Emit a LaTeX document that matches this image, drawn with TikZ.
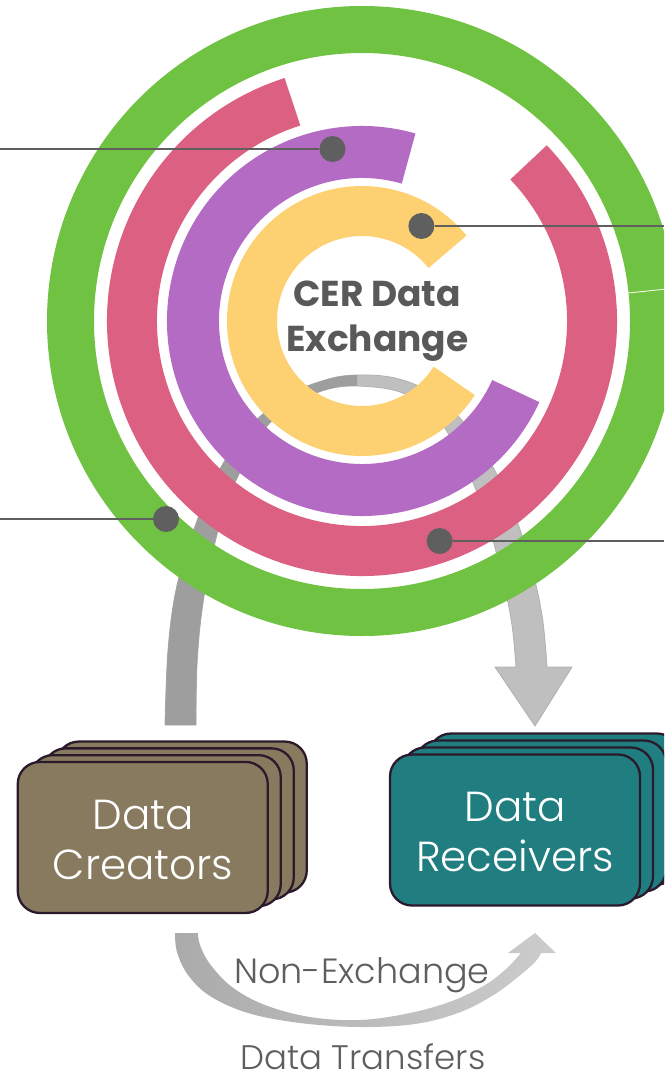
\documentclass[tikz,border=0pt]{standalone}
\usepackage{fontspec}
\setmainfont{Poppins}
\IfFontExistsTF{Poppins Light}{\newfontfamily\lightfont{Poppins Light}}{\newfontfamily\lightfont{Poppins}}
\usetikzlibrary{calc}
\definecolor{ringgreen}{HTML}{70C242}
\definecolor{ringred}{HTML}{DC6081}
\definecolor{ringpurple}{HTML}{B36BC3}
\definecolor{ringyellow}{HTML}{FDD171}
\definecolor{dotgray}{HTML}{5F5F5F}
\definecolor{titlegray}{HTML}{595959}
\definecolor{creatorfill}{HTML}{877A5F}
\definecolor{receiverfill}{HTML}{207D80}
\definecolor{boxline}{HTML}{2A1A2C}
\definecolor{archdark}{HTML}{9E9E9E}
\definecolor{archlight}{HTML}{BFBFBF}
\definecolor{archedge}{HTML}{B0B0B0}
\definecolor{labelgray}{HTML}{5E5E5E}
\newcommand\archshape{plot[smooth, tension=0.6] coordinates {(165,725) (168,650) (176,590) (192,535) (214,480) (245,432) (285,397) (325,380) (357,375) (395,378) (430,392) (460,418) (488,458) (512,508) (530,562) (542,615) (547,667)} -- (572,667) -- (535,726) -- (495,667) -- plot[smooth, tension=0.6] coordinates {(516,667) (512,625) (503,580) (490,530) (474,485) (455,445) (432,412) (400,392) (357,386) (325,390) (295,404) (268,425) (246,460) (226,505) (212,555) (202,610) (197,665) (196,725)} -- cycle}
\begin{document}
\begin{tikzpicture}[x=1pt, y=-1pt,
  ring/.style={line width=#1, line cap=butt},
  dot/.style={circle, fill=dotgray, minimum size=26pt, inner sep=0pt},
  leader/.style={draw=dotgray, line width=2.5pt},
  stackbox/.style={draw=boxline, line width=2.3pt, rounded corners=22pt, minimum width=250pt, minimum height=151pt, inner sep=0pt, fill=#1},
  boxtext/.style={text=white, font=\lightfont\fontsize{42}{50}\selectfont, anchor=base, inner sep=0pt},
  titletext/.style={text=titlegray, font=\bfseries\fontsize{36}{45}\selectfont, anchor=base, inner sep=0pt},
  flowtext/.style={text=labelgray, font=\lightfont\fontsize{#1}{#1}\selectfont, anchor=base, inner sep=0pt}
]
\useasboundingbox (0,0) rectangle (664,1075);
\clip (0,0) rectangle (664,1075);

% big grey arch from creators to receivers (behind the rings)
\fill[archlight, draw=archedge, line width=0.8pt] \archshape;
\begin{scope}
  \clip (0,0) rectangle (357,760);
  \fill[archdark] \archshape;
\end{scope}

% lower non-exchange arrow
\shade[left color=black!33, right color=black!20]
  plot[smooth, tension=0.6] coordinates {(175,933) (177,952) (188,975) (210,996) (248,1013) (300,1023) (360,1027) (415,1024) (458,1013) (492,996) (518,977) (535,962) (541,953)}
  -- (556,953) -- (535,933) -- (508,953)
  -- plot[smooth, tension=0.6] coordinates {(521,953) (506,969) (485,985) (452,1001) (410,1013) (360,1020) (310,1017) (265,1005) (232,987) (210,964) (200,945) (198,933)} -- cycle;

% rings
\begin{scope}[shift={(362,321)}, y=1pt]
  \draw[ring=47pt, ringgreen] (0,0) circle[radius=291.5];
  \draw[ring=50pt, ringred] (107.6:230) arc[start angle=107.6, end angle=403.6, radius=230];
  \draw[ring=52pt, ringpurple] (74:169) arc[start angle=74, end angle=335.5, radius=169];
  \draw[ring=50pt, ringyellow] (39:110) arc[start angle=39, end angle=327, radius=110];
  \draw[white, line width=0.8pt] (6:268) -- (6:315);
\end{scope}

% leader dots and lines
\node[dot] (d1) at (332.5,149) {};
\node[dot] (d2) at (421.4,226) {};
\node[dot] (d3) at (166,519) {};
\node[dot] (d4) at (439.6,541) {};
\coordinate (e1) at (0,149);
\coordinate (e2) at (664,226);
\coordinate (e3) at (0,519);
\coordinate (e4) at (664,541);
\draw[leader] (d1) -- (e1);
\draw[leader] (d2) -- (e2);
\draw[leader] (d3) -- (e3);
\draw[leader] (d4) -- (e4);

% title
\node[titletext] (t1) at (377,306) {CER Data};
\node[titletext] (t2) at (377.5,351) {Exchange};

% Data Creators stack
\node[stackbox=creatorfill] (c4) at (181.75,817.05) {};
\node[stackbox=creatorfill] (c3) at (168.75,823.85) {};
\node[stackbox=creatorfill] (c2) at (155.75,830.65) {};
\node[stackbox=creatorfill] (c1) at (142.75,837.45) {};
\node[boxtext] (c1a) at (143,829) {Data};
\node[boxtext] (c1b) at (143,879) {Creators};

% Data Receivers stack
\node[stackbox=receiverfill] (r4) at (554,809) {};
\node[stackbox=receiverfill] (r3) at (541,816) {};
\node[stackbox=receiverfill] (r2) at (528,823) {};
\node[stackbox=receiverfill] (r1) at (515,830) {};
\node[boxtext] (r1a) at (515,821.7) {Data};
\node[boxtext] (r1b) at (515,871.7) {Receivers};

% bottom labels
\node[flowtext=35] (n1) at (362,983) {Non-Exchange};
\node[flowtext=34] (n2) at (363,1069) {Data Transfers};
\end{tikzpicture}
\end{document}
